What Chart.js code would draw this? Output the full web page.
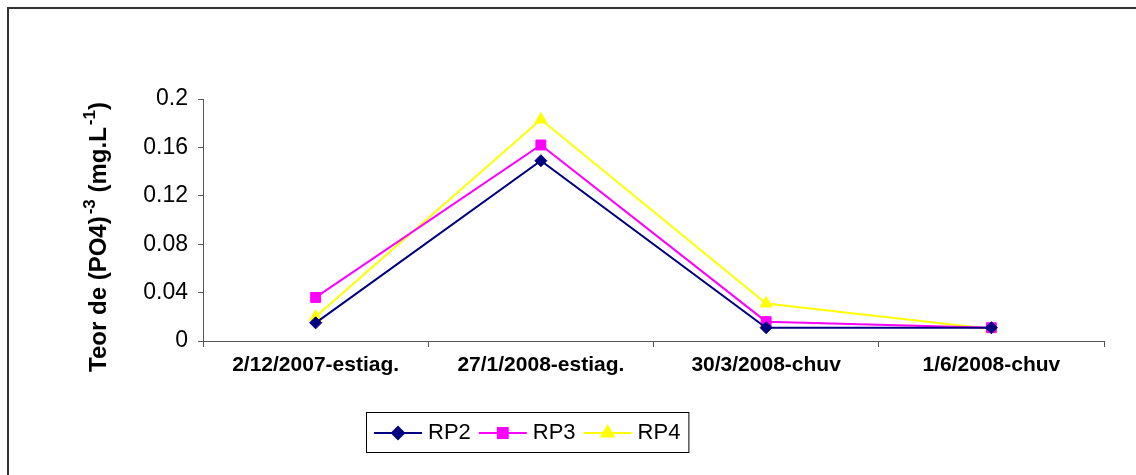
<!DOCTYPE html>
<html>
<head>
<meta charset="utf-8">
<script src="https://cdn.jsdelivr.net/npm/chart.js@4/dist/chart.umd.min.js"></script>
<style>
html,body{margin:0;padding:0;background:#fff;}
#wrap{width:1136px;height:475px;position:relative;}
</style>
</head>
<body>
<div id="wrap"><canvas id="c" width="1136" height="475"></canvas></div>
<script>
const categories = ['2/12/2007-estiag.', '27/1/2008-estiag.', '30/3/2008-chuv', '1/6/2008-chuv'];
const seriesNames = ['RP2', 'RP3', 'RP4'];
const rp2 = [0.015, 0.149, 0.011, 0.011];
const rp3 = [0.036, 0.162, 0.016, 0.011];
const rp4 = [0.020, 0.183, 0.031, 0.010];
const yTickLabels = ['0', '0.04', '0.08', '0.12', '0.16', '0.2'];
// y title parts: [text, isSuperscript]
const yTitleParts = [['Teor de (PO4)', false], ['-3', true], [' (mg.L', false], ['-1', true], [')', false]];

const colors = ['#000080', '#FF00FF', '#FFFF00'];
const styles = ['rectRot', 'rect', 'triangle'];
const radii = [6, 7, 7];
const values = [rp2, rp3, rp4];

const FONT = '"Liberation Sans", Arial, sans-serif';

const decor = {
  id: 'decor',
  beforeDraw(chart) {
    const ctx = chart.ctx;
    ctx.save();
    ctx.fillStyle = '#fff';
    ctx.fillRect(0, 0, chart.width, chart.height);
    ctx.strokeStyle = '#333';
    ctx.lineWidth = 2;
    ctx.beginPath();
    ctx.moveTo(8, chart.height);
    ctx.lineTo(8, 8);
    ctx.lineTo(chart.width, 8);
    ctx.stroke();
    ctx.restore();
  },
  afterDraw(chart) {
    const ctx = chart.ctx;
    // y-axis title with real superscripts
    ctx.save();
    const mainFont = 'bold 24px ' + FONT;
    const supFont = 'bold 17px ' + FONT;
    let total = 0;
    yTitleParts.forEach(([t, sup]) => { ctx.font = sup ? supFont : mainFont; total += ctx.measureText(t).width + (sup ? 2 : 0); });
    ctx.translate(106, 237);
    ctx.rotate(-Math.PI / 2);
    ctx.fillStyle = '#000';
    ctx.textBaseline = 'alphabetic';
    ctx.textAlign = 'left';
    let tx = -total / 2;
    yTitleParts.forEach(([t, sup]) => {
      ctx.font = sup ? supFont : mainFont;
      if (sup) tx += 2;
      ctx.fillText(t, tx, sup ? -11 : 0);
      tx += ctx.measureText(t).width;
    });
    ctx.restore();

    // legend
    ctx.save();
    ctx.font = '22px ' + FONT;
    const boxL = 366, boxT = 412, boxH = 40;
    let x = boxL + 8;
    const cy = boxT + boxH / 2 + 1;
    chart.data.datasets.forEach((ds) => {
      ctx.strokeStyle = ds.borderColor;
      ctx.lineWidth = 2;
      ctx.beginPath();
      ctx.moveTo(x, cy);
      ctx.lineTo(x + 48, cy);
      ctx.stroke();
      ctx.fillStyle = ds.backgroundColor;
      ctx.strokeStyle = ds.borderColor;
      Chart.helpers.drawPoint(ctx, {pointStyle: ds.pointStyle, radius: ds.pointRadius, rotation: 0, borderWidth: 1}, x + 24, cy);
      x += 54;
      ctx.fillStyle = '#000';
      ctx.textBaseline = 'middle';
      ctx.textAlign = 'left';
      ctx.fillText(ds.label, x, cy);
      x += ctx.measureText(ds.label).width + 8;
    });
    ctx.strokeStyle = '#000';
    ctx.lineWidth = 1;
    ctx.strokeRect(boxL + 0.5, boxT + 0.5, x - boxL, boxH);
    ctx.restore();
  }
};

new Chart(document.getElementById('c'), {
  type: 'line',
  data: {
    labels: categories,
    datasets: seriesNames.map((n, i) => ({
      label: n,
      data: values[i],
      borderColor: colors[i],
      backgroundColor: colors[i],
      borderWidth: 2,
      pointStyle: styles[i],
      pointRadius: radii[i],
      pointHoverRadius: radii[i],
      pointBorderWidth: 1,
      tension: 0,
      fill: false
    }))
  },
  options: {
    responsive: false,
    animation: false,
    events: [],
    layout: { padding: { left: 85, top: 99, right: 32, bottom: 0 } },
    plugins: { legend: { display: false }, tooltip: { enabled: false } },
    scales: {
      x: {
        offset: true,
        afterFit(s) { s.height = 134; },
        grid: { offset: true, drawOnChartArea: false, tickLength: 6, color: '#555', lineWidth: 1 },
        border: { color: '#555', width: 1 },
        ticks: { color: '#000', padding: 6, maxRotation: 0, autoSkip: false, font: { family: FONT, size: 21, weight: 'bold' } }
      },
      y: {
        min: 0, max: 0.2,
        afterFit(s) { s.width = 118; },
        grid: { drawOnChartArea: false, tickLength: 5, color: '#555', lineWidth: 1 },
        border: { color: '#555', width: 1 },
        ticks: {
          stepSize: 0.04, color: '#000', padding: 10,
          font: { family: FONT, size: 23 },
          callback: (v, idx) => yTickLabels[idx]
        },
        title: { display: false }
      }
    }
  },
  plugins: [decor]
});
</script>
</body>
</html>
